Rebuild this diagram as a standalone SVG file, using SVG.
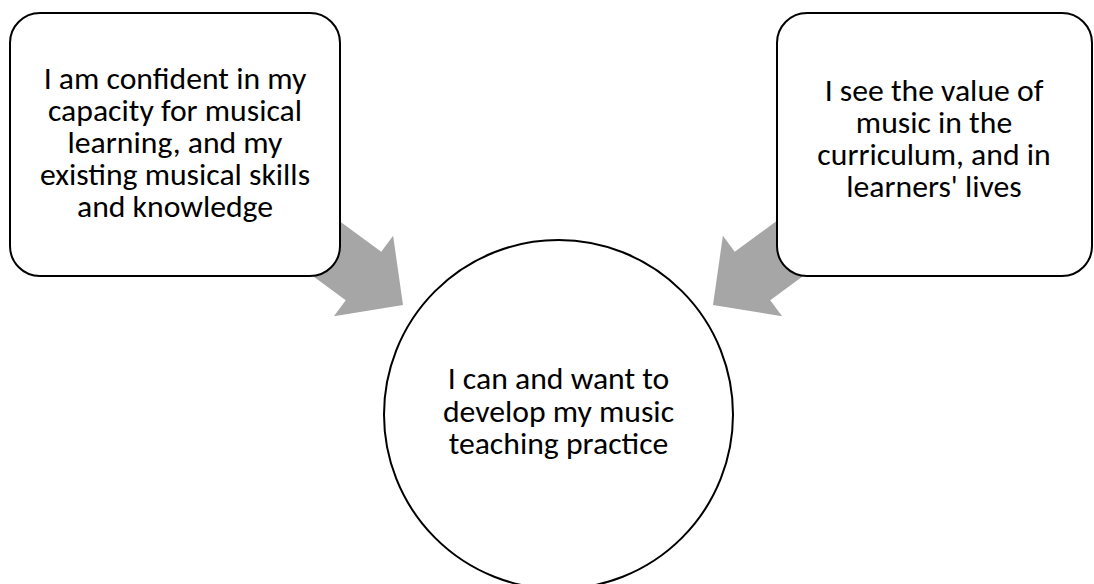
<svg xmlns="http://www.w3.org/2000/svg" width="1094" height="584" viewBox="0 0 1094 584">
<defs>
<style>
.node{fill:#FFFFFF;stroke:#000000;stroke-width:2}
.arrow{fill:#A6A6A6;stroke:none}
.t{font-family:Carlito,Lato,"Open Sans",sans-serif;font-size:31.7px;fill:#000000;text-anchor:middle}
</style>
<polygon id="arr" class="arrow" points="0,0 -49,-50 -49,-30 -200,-30 -200,30 -49,30 -49,50"/>
</defs>
<rect width="1094" height="584" fill="#FFFFFF"/>
<g id="connectors">
<use href="#arr" transform="translate(403,305) rotate(36.3)"/>
<use href="#arr" transform="translate(713,305) scale(-1,1) rotate(36.3)"/>
</g>
<g id="node-left">
<rect class="node" x="10" y="13" width="330" height="263" rx="30" ry="30"/>
<text class="t" x="175" y="88.5"><tspan x="175" y="88.5">I am confident in my</tspan><tspan x="175" y="120.5">capacity for musical</tspan><tspan x="175" y="152.5">learning, and my</tspan><tspan x="175" y="184.5">existing musical skills</tspan><tspan x="175" y="216.5">and knowledge</tspan></text>
</g>
<g id="node-right">
<rect class="node" x="777" y="13" width="315" height="263" rx="30" ry="30"/>
<text class="t" x="934" y="101"><tspan x="934" y="101">I see the value of</tspan><tspan x="934" y="133">music in the</tspan><tspan x="934" y="165">curriculum, and in</tspan><tspan x="934" y="197">learners' lives</tspan></text>
</g>
<g id="node-center">
<circle class="node" cx="558.5" cy="414.5" r="174.5"/>
<text class="t" x="558.5" y="389"><tspan x="558.5" y="389">I can and want to</tspan><tspan x="558.5" y="421.5">develop my music</tspan><tspan x="558.5" y="454">teaching practice</tspan></text>
</g>
</svg>
